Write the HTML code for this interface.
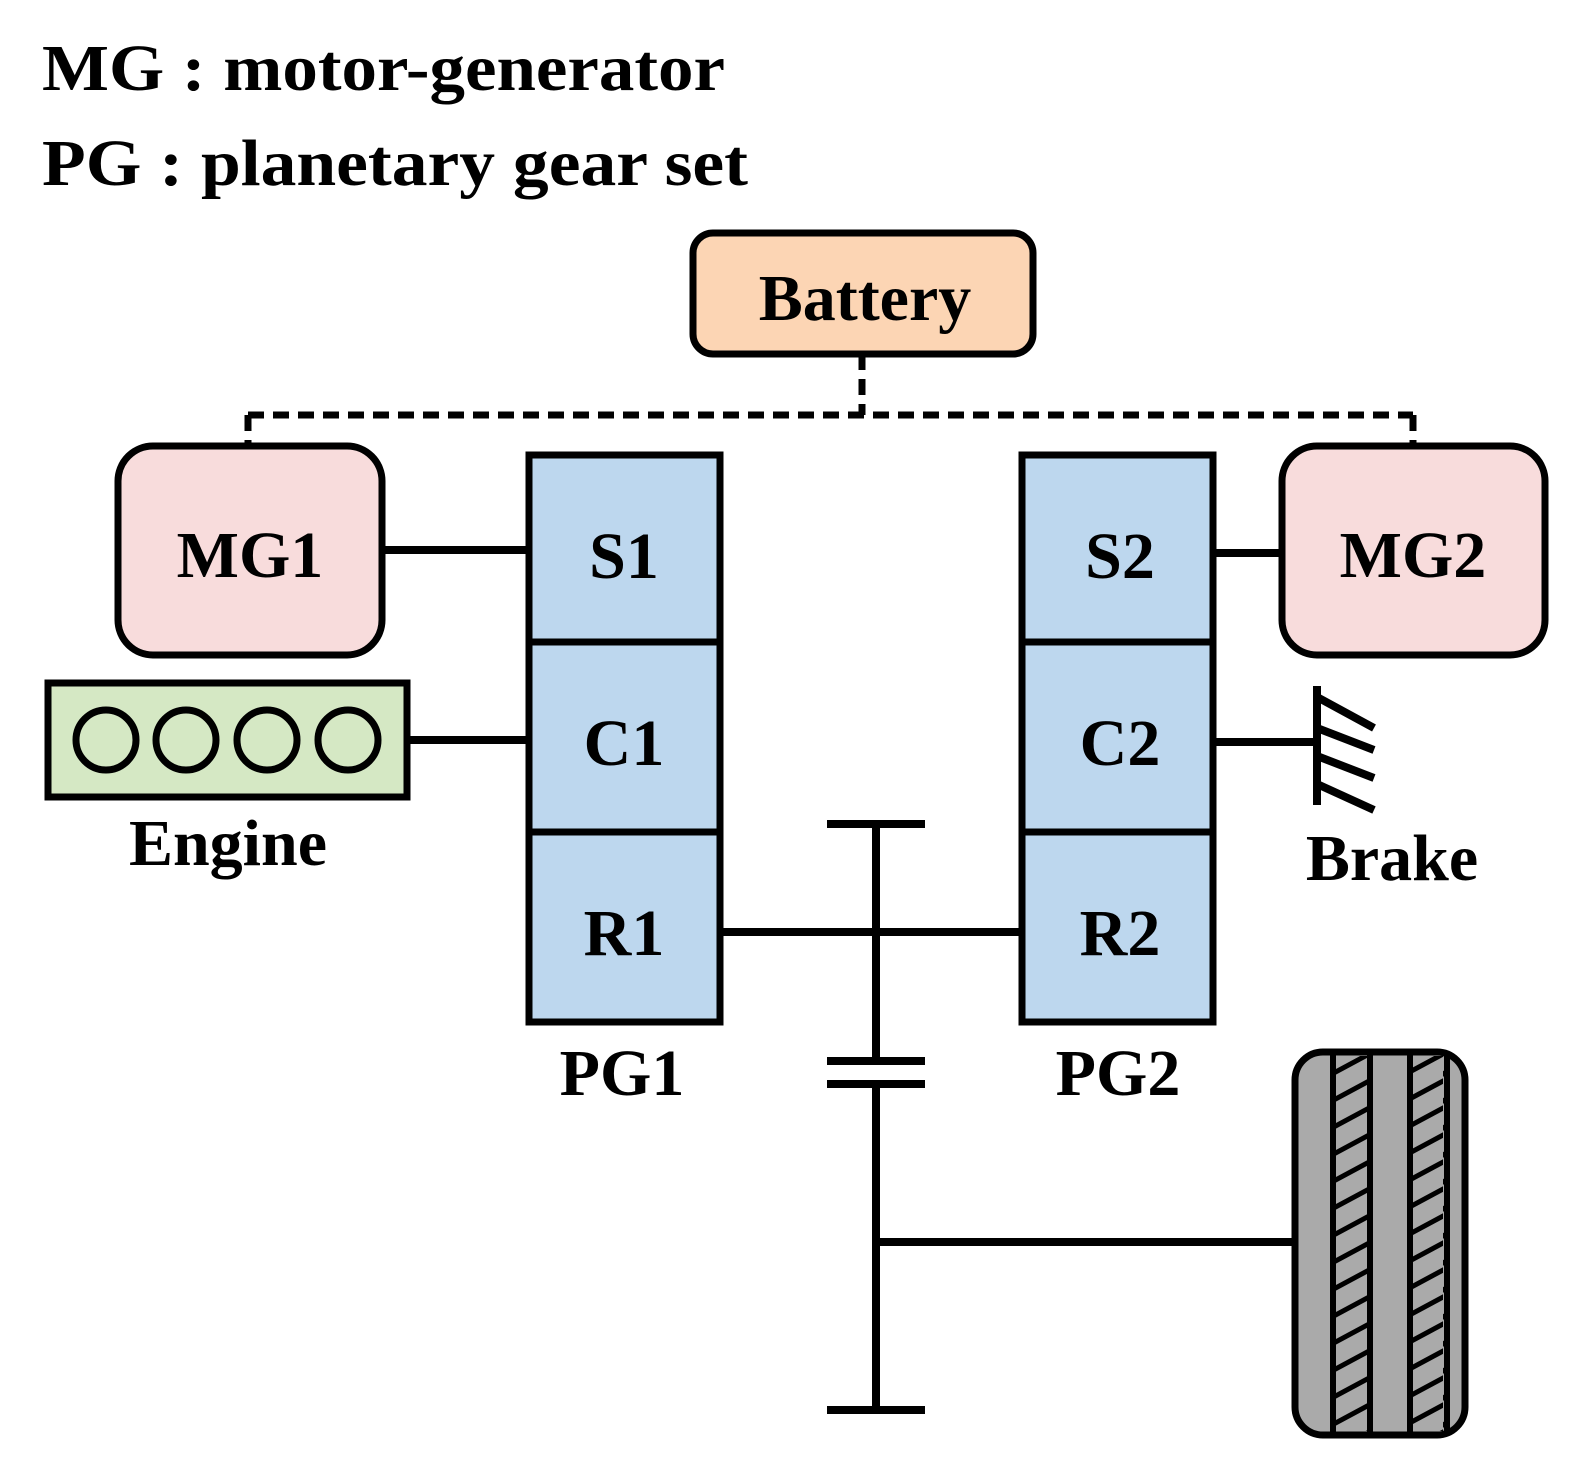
<!DOCTYPE html>
<html><head><meta charset="utf-8"><style>html,body{margin:0;padding:0;background:#fff}svg{display:block}</style></head>
<body>
<svg width="1577" height="1471" viewBox="0 0 1577 1471" xmlns="http://www.w3.org/2000/svg" font-family="Liberation Serif, serif" font-weight="bold">
<defs>
<pattern id="hatch" patternUnits="userSpaceOnUse" x="0" y="1054" width="37" height="27">
<line x1="-2" y1="21" x2="39" y2="-1" stroke="#000" stroke-width="5"/>
<line x1="-2" y1="48" x2="39" y2="26" stroke="#000" stroke-width="5"/>
</pattern>
</defs>
<text x="42" y="90" font-size="66" textLength="683" lengthAdjust="spacingAndGlyphs">MG : motor-generator</text>
<text x="42" y="185" font-size="66" textLength="706" lengthAdjust="spacingAndGlyphs">PG : planetary gear set</text>

<g stroke="#000" stroke-width="7" stroke-dasharray="16,9" fill="none">
<line x1="862" y1="354" x2="862" y2="415"/>
<line x1="248" y1="415" x2="1413" y2="415"/>
<line x1="248" y1="415" x2="248" y2="446"/>
<line x1="1413" y1="415" x2="1413" y2="446"/>
</g>

<rect x="693" y="233" width="340" height="121" rx="20" fill="#fcd5b4" stroke="#000" stroke-width="7"/>
<text x="865" y="320" font-size="66" text-anchor="middle">Battery</text>

<rect x="118" y="446" width="264" height="209" rx="35" fill="#f8dcdc" stroke="#000" stroke-width="7"/>
<text x="250" y="577" font-size="66" text-anchor="middle">MG1</text>
<rect x="1282" y="446" width="263" height="209" rx="35" fill="#f8dcdc" stroke="#000" stroke-width="7"/>
<text x="1413" y="577" font-size="66" text-anchor="middle">MG2</text>

<g stroke="#000" stroke-width="7" fill="#bdd7ee">
<rect x="529" y="455" width="191" height="187"/>
<rect x="529" y="642" width="191" height="190"/>
<rect x="529" y="832" width="191" height="190"/>
<rect x="1022" y="455" width="191" height="187"/>
<rect x="1022" y="642" width="191" height="190"/>
<rect x="1022" y="832" width="191" height="190"/>
</g>
<g font-size="66" text-anchor="middle">
<text x="624" y="578">S1</text><text x="624" y="765">C1</text><text x="624" y="955">R1</text>
<text x="1120" y="578">S2</text><text x="1120" y="765">C2</text><text x="1120" y="955">R2</text>
<text x="622" y="1095">PG1</text><text x="1118" y="1095">PG2</text>
<text x="228" y="865">Engine</text><text x="1392" y="880">Brake</text>
</g>

<rect x="48" y="683" width="359" height="114" fill="#d5e8c4" stroke="#000" stroke-width="7"/>
<g fill="none" stroke="#000" stroke-width="7">
<circle cx="106" cy="740" r="30"/><circle cx="186" cy="740" r="30"/><circle cx="267" cy="740" r="30"/><circle cx="348" cy="740" r="30"/>
</g>

<g stroke="#000" stroke-width="8" fill="none">
<line x1="382" y1="550" x2="529" y2="550"/>
<line x1="407" y1="740" x2="529" y2="740"/>
<line x1="1213" y1="553" x2="1282" y2="553"/>
<line x1="1213" y1="742" x2="1317" y2="742"/>
<line x1="720" y1="932" x2="1022" y2="932"/>
<line x1="876" y1="824" x2="876" y2="1061"/>
<line x1="827" y1="824" x2="925" y2="824"/>
<line x1="827" y1="1061" x2="925" y2="1061"/>
<line x1="827" y1="1084" x2="925" y2="1084"/>
<line x1="876" y1="1084" x2="876" y2="1410"/>
<line x1="827" y1="1410" x2="925" y2="1410"/>
<line x1="876" y1="1242" x2="1295" y2="1242"/>
<line x1="1317" y1="686" x2="1317" y2="805"/>
<line x1="1317" y1="697" x2="1374" y2="728"/>
<line x1="1317" y1="728" x2="1374" y2="750"/>
<line x1="1317" y1="756" x2="1374" y2="778"/>
<line x1="1317" y1="784" x2="1374" y2="810"/>
</g>

<rect x="1295" y="1052" width="170" height="383" rx="28" fill="#aaaaaa" stroke="#000" stroke-width="7"/>
<rect x="1333" y="1056" width="37" height="375" fill="url(#hatch)"/>
<rect x="1410" y="1056" width="37" height="375" fill="url(#hatch)"/>
<g stroke="#000" stroke-width="6">
<line x1="1333" y1="1052" x2="1333" y2="1435"/><line x1="1370" y1="1052" x2="1370" y2="1435"/>
<line x1="1410" y1="1052" x2="1410" y2="1435"/><line x1="1447" y1="1052" x2="1447" y2="1435"/>
</g>
</svg>
</body></html>
